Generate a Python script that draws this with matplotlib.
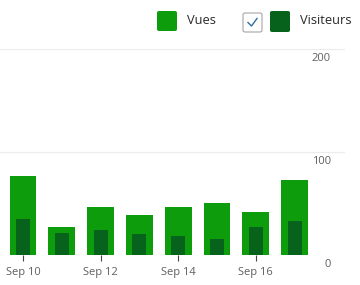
import matplotlib
matplotlib.use("Agg")
import matplotlib.pyplot as plt
from matplotlib.patches import FancyBboxPatch
from matplotlib.lines import Line2D
from matplotlib.transforms import offset_copy
import numpy as np

days = ["Sep 10", "Sep 11", "Sep 12", "Sep 13", "Sep 14", "Sep 15", "Sep 16", "Sep 17"]
vues = [77, 27, 47, 39, 47, 50, 42, 73]
visiteurs = [35, 21, 24, 20, 18, 16, 27, 33]
y_ticks = [0, 100, 200]

green = "#0c9c0c"
dark = "#07631b"
grey = "#5f5f5f"

W, H = 360, 285
fig = plt.figure(figsize=(W / 100, H / 100), dpi=100)
plt.rcParams['font.family'] = ['Open Sans', 'DejaVu Sans']

# axes: px 0..345 horizontally, baseline at y=255
ax = fig.add_axes([0, 30 / H, 345 / W, 221.5 / H])
x = np.arange(len(days))
ax.bar(x, vues, width=0.69, color=green, zorder=2)
ax.bar(x, visiteurs, width=0.36, color=dark, zorder=3)

ax.set_xlim(-23 / 38.8, 322 / 38.8)
ax.set_ylim(0, 215)

# right-hand value labels, sitting just under each gridline
lab_tr = offset_copy(ax.get_yaxis_transform(), fig=fig, x=0, y=-4, units="dots")
for v in y_ticks:
    ax.axhline(v, color="#ececec", lw=0.8, zorder=1)
    ax.text(331 / 345, v, str(v), transform=lab_tr,
            ha="right", va="top", fontsize=8, color=grey)
ax.set_yticks([])
for s in ax.spines.values():
    s.set_visible(False)

ax.set_xticks(x[::2])
ax.set_xticklabels(days[::2])
ax.tick_params(axis="x", length=4, width=0.8, color="#444444", labelcolor=grey,
               labelsize=8, pad=5)

# legend drawn by hand in pixel coordinates
def px_box(x0, y0, w, h, fc, ec="none", lw=0):
    p = FancyBboxPatch((x0 / W, 1 - (y0 + h) / H), w / W, h / H,
                       boxstyle="round,pad=0,rounding_size=0.006",
                       transform=fig.transFigure, fc=fc, ec=ec, lw=lw)
    fig.add_artist(p)

px_box(157, 11, 20, 20, green)
fig.text(187 / W, 1 - 21 / H, "Vues", fontsize=9.3, color="#2a2a2a", va="center")
px_box(243, 13, 19, 19, "white", ec="#9a9a9a", lw=0.7)
fig.add_artist(Line2D([248 / W, 251.5 / W, 257 / W],
                      [1 - 22.5 / H, 1 - 26 / H, 1 - 18.5 / H],
                      transform=fig.transFigure, color="#2f6da0", lw=1))
px_box(270, 11, 20, 21, dark)
fig.text(300 / W, 1 - 21 / H, "Visiteurs", fontsize=9.3, color="#2a2a2a", va="center")

fig.savefig("out.png", dpi=100)
